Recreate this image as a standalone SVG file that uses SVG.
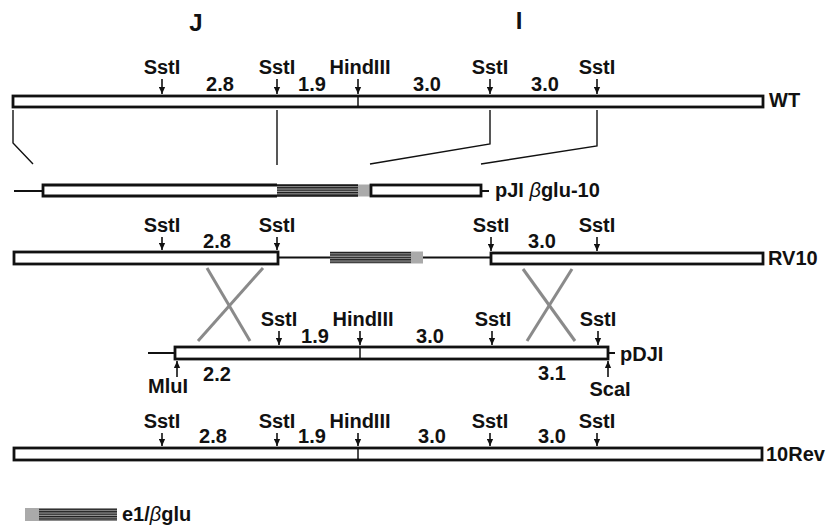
<svg xmlns="http://www.w3.org/2000/svg" width="828" height="527" viewBox="0 0 828 527">
<defs>
<marker id="ah" viewBox="0 0 10 10" refX="10" refY="5" markerWidth="7" markerHeight="7" markerUnits="userSpaceOnUse" orient="auto"><path d="M0,0.5 L10,5 L0,9.5 z" fill="#111"/></marker>
<pattern id="hatch" patternUnits="userSpaceOnUse" width="4" height="2.4"><rect width="4" height="2.4" fill="#9a9a9a"/><rect width="4" height="1.2" fill="#1a1a1a"/></pattern>
</defs>
<style>
text{font-family:"Liberation Sans",Arial,sans-serif;font-weight:bold;font-size:20px;fill:#111}
.m{text-anchor:middle}
.bar{fill:#fff;stroke:#111;stroke-width:2.8}
.ln{stroke:#111;stroke-width:2;fill:none}
.arr{stroke:#111;stroke-width:1.6;marker-end:url(#ah)}
.tick{stroke:#111;stroke-width:1.5}
.con{stroke:#111;stroke-width:1.4;fill:none}
.x{stroke:#8a8a8a;stroke-width:3;fill:none}
.hat{fill:url(#hatch)}
.gr{fill:#aaa}
</style>
<g id="headers">
<text class="m" x="196" y="31" style="font-size:24px">J</text>
<text class="m" x="519" y="29" style="font-size:24px">I</text>
</g>
<g id="WT">
<rect class="bar" x="13" y="96" width="750" height="11"/>
<line class="tick" x1="358" y1="96" x2="358" y2="107"/>
<line class="arr" x1="162" y1="79" x2="162" y2="94"/>
<line class="arr" x1="277" y1="79" x2="277" y2="94"/>
<line class="arr" x1="358" y1="79" x2="358" y2="94"/>
<line class="arr" x1="490" y1="79" x2="490" y2="94"/>
<line class="arr" x1="597" y1="79" x2="597" y2="94"/>
<text class="m" x="162" y="74">SstI</text>
<text class="m" x="277" y="74">SstI</text>
<text class="m" x="360" y="74">HindIII</text>
<text class="m" x="490" y="74">SstI</text>
<text class="m" x="597" y="74">SstI</text>
<text class="m" x="220" y="91">2.8</text>
<text class="m" x="312" y="91">1.9</text>
<text class="m" x="427" y="91">3.0</text>
<text class="m" x="545" y="91">3.0</text>
<text x="769" y="107">WT</text>
</g>
<g id="pJIbglu10">
<line class="ln" x1="14" y1="191" x2="43" y2="191"/>
<rect class="hat" x="277" y="185" width="81" height="11"/>
<rect class="gr" x="358" y="184.5" width="13" height="12"/>
<line class="ln" x1="277" y1="185" x2="358" y2="185" style="stroke-width:1.5"/>
<line class="ln" x1="277" y1="196" x2="358" y2="196" style="stroke-width:1.5"/>
<path class="bar" d="M277,185 H43 V196 H277"/>
<rect class="bar" x="371" y="185" width="110" height="11"/>
<line class="ln" x1="481" y1="191" x2="489" y2="191"/>
<text x="495" y="197">pJI <tspan style="font-style:italic;font-weight:normal">β</tspan>glu-10</text>
</g>
<g id="RV10">
<rect class="bar" x="14" y="252" width="264" height="12"/>
<line class="ln" x1="278" y1="257.5" x2="330" y2="257.5"/>
<rect class="hat" x="330" y="251.5" width="81" height="12"/>
<rect class="gr" x="411" y="251.5" width="12" height="12"/>
<line class="ln" x1="423" y1="257.5" x2="491" y2="257.5"/>
<rect class="bar" x="491" y="253" width="272" height="11"/>
<line class="arr" x1="162" y1="237" x2="162" y2="250"/>
<line class="arr" x1="277" y1="237" x2="277" y2="250"/>
<line class="arr" x1="491" y1="237" x2="491" y2="251"/>
<line class="arr" x1="597" y1="237" x2="597" y2="251"/>
<text class="m" x="162" y="232">SstI</text>
<text class="m" x="277" y="232">SstI</text>
<text class="m" x="491" y="232">SstI</text>
<text class="m" x="597" y="232">SstI</text>
<text class="m" x="217" y="248">2.8</text>
<text class="m" x="542" y="248">3.0</text>
<text x="768" y="265">RV10</text>
</g>
<g id="pDJI">
<line class="ln" x1="148" y1="353" x2="175" y2="353"/>
<rect class="bar" x="175" y="347" width="433" height="12"/>
<line class="tick" x1="360" y1="347" x2="360" y2="359"/>
<line class="ln" x1="608" y1="353" x2="615" y2="353"/>
<line class="arr" x1="279" y1="331" x2="279" y2="345"/>
<line class="arr" x1="360" y1="331" x2="360" y2="345"/>
<line class="arr" x1="492" y1="331" x2="492" y2="345"/>
<line class="arr" x1="598" y1="331" x2="598" y2="345"/>
<text class="m" x="279" y="326">SstI</text>
<text class="m" x="363" y="326">HindIII</text>
<text class="m" x="493" y="326">SstI</text>
<text class="m" x="598" y="326">SstI</text>
<text class="m" x="315" y="343">1.9</text>
<text class="m" x="430" y="343">3.0</text>
<text class="m" x="217" y="381">2.2</text>
<text class="m" x="552" y="380">3.1</text>
<line class="arr" x1="177" y1="377" x2="177" y2="361"/>
<text class="m" x="168" y="393">MluI</text>
<line class="arr" x1="608" y1="377" x2="608" y2="361"/>
<text class="m" x="610" y="396">ScaI</text>
<text x="620" y="361">pDJI</text>
</g>
<g id="10Rev">
<rect class="bar" x="14" y="448" width="748" height="12"/>
<line class="tick" x1="358" y1="448" x2="358" y2="460"/>
<line class="arr" x1="162" y1="433" x2="162" y2="446"/>
<line class="arr" x1="277" y1="433" x2="277" y2="446"/>
<line class="arr" x1="358" y1="433" x2="358" y2="446"/>
<line class="arr" x1="490" y1="433" x2="490" y2="446"/>
<line class="arr" x1="597" y1="433" x2="597" y2="446"/>
<text class="m" x="162" y="428">SstI</text>
<text class="m" x="277" y="428">SstI</text>
<text class="m" x="360" y="428">HindIII</text>
<text class="m" x="490" y="428">SstI</text>
<text class="m" x="597" y="428">SstI</text>
<text class="m" x="213" y="443">2.8</text>
<text class="m" x="312" y="443">1.9</text>
<text class="m" x="432" y="443">3.0</text>
<text class="m" x="552" y="443">3.0</text>
<text x="766" y="461">10Rev</text>
</g>
<g id="legend">
<rect class="gr" x="25" y="508" width="14" height="13"/>
<rect class="hat" x="39" y="508" width="78" height="13"/>
<text x="122" y="521">e1/<tspan style="font-style:italic;font-weight:normal">β</tspan>glu</text>
</g>
<g id="connectors">
<polyline class="con" points="13,110 13,143 33,164"/>
<line class="con" x1="277" y1="110" x2="277" y2="165"/>
<polyline class="con" points="490,110 490,144 370,164"/>
<polyline class="con" points="597,110 597,146 481,164"/>
<line class="x" x1="207" y1="268" x2="250" y2="341"/>
<line class="x" x1="263" y1="268" x2="198" y2="341"/>
<line class="x" x1="523" y1="269" x2="575" y2="341"/>
<line class="x" x1="572" y1="269" x2="527" y2="341"/>
</g>
</svg>
